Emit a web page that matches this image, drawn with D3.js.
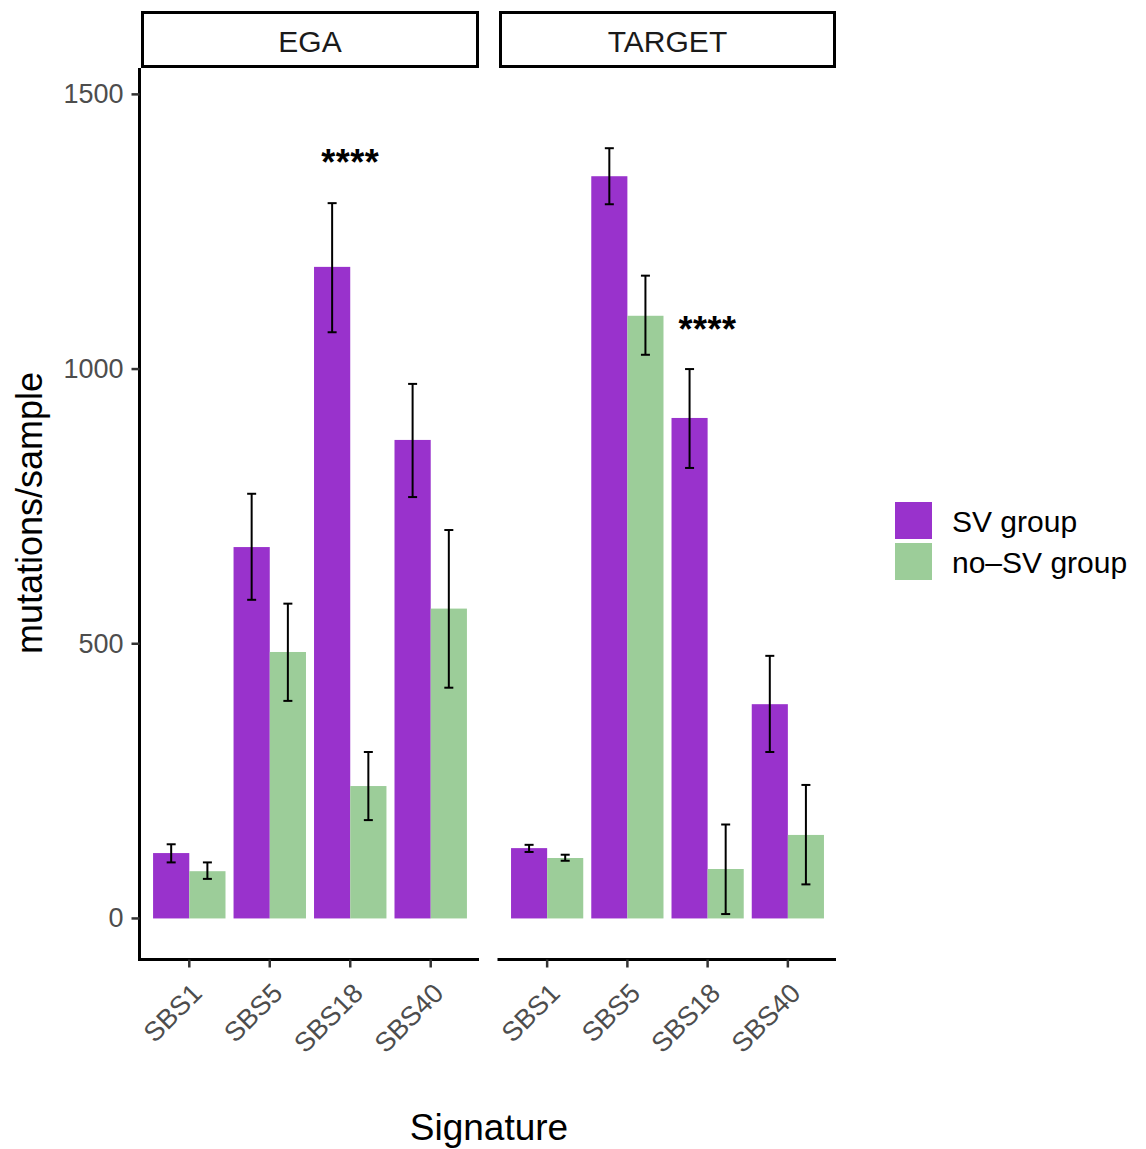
<!DOCTYPE html>
<html>
<head>
<meta charset="utf-8">
<script src="https://cdn.jsdelivr.net/npm/d3@7"></script>
<style>
  html, body { margin: 0; padding: 0; background: #fff; }
  svg { display: block; font-family: "Liberation Sans", Arial, Helvetica, sans-serif; }
</style>
</head>
<body>
<svg id="chart" width="1146" height="1149"></svg>
<script>
// Cohorts (facets), signatures and groups
const cohorts = ["EGA", "TARGET"];
const signatures = ["SBS1", "SBS5", "SBS18", "SBS40"];
const groups = ["SV group", "no\u2013SV group"];
const groupColors = ["#9932cc", "#9ccd99"];

// Mean mutations/sample per signature, with error-bar bounds
const egaSV      = [119, 676, 1186, 871];
const egaSVLow   = [102, 580, 1067, 767];
const egaSVHigh  = [135, 773, 1302, 973];
const egaNoSV      = [86, 485, 241, 564];
const egaNoSVLow   = [72, 396, 179, 420];
const egaNoSVHigh  = [102, 573, 303, 707];

const targetSV      = [128, 1351, 911, 390];
const targetSVLow   = [121, 1300, 820, 303];
const targetSVHigh  = [134, 1402, 1000, 478];
const targetNoSV      = [110, 1097, 90, 152];
const targetNoSVLow   = [105, 1026, 8, 62];
const targetNoSVHigh  = [116, 1170, 171, 243];

// Significance labels: cohort, signature, label, height
const sigCohort = ["EGA", "TARGET"];
const sigSignature = ["SBS18", "SBS18"];
const sigLabel = ["****", "****"];
const sigValue = [1386, 1082];

const yTicks = [0, 500, 1000, 1500];

const series = {
  EGA: [
    { values: egaSV, low: egaSVLow, high: egaSVHigh },
    { values: egaNoSV, low: egaNoSVLow, high: egaNoSVHigh }
  ],
  TARGET: [
    { values: targetSV, low: targetSVLow, high: targetSVHigh },
    { values: targetNoSV, low: targetNoSVLow, high: targetNoSVHigh }
  ]
};

const svg = d3.select("#chart");

const panelTop = 68, panelBottom = 958;
const panels = [{ name: "EGA", x0: 141, x1: 479 }, { name: "TARGET", x0: 499, x1: 836 }];

const y = d3.scaleLinear().domain([-72, 1548]).range([panelBottom, panelTop]);

const textGrey = "#4d4d4d";

panels.forEach((p, pi) => {
  const g = svg.append("g");
  // discrete x with 0.6 expansion on each side
  const x = d3.scaleLinear().domain([0.4, signatures.length + 0.6]).range([p.x0, p.x1]);
  const groupScale = d3.scaleBand().domain(groups).range([-0.45, 0.45]);

  // strip
  g.append("rect")
    .attr("x", p.x0 + 1.5).attr("y", 12.5)
    .attr("width", p.x1 - p.x0 - 3).attr("height", 54)
    .attr("fill", "#fff").attr("stroke", "#000").attr("stroke-width", 3);
  g.append("text")
    .attr("x", (p.x0 + p.x1) / 2).attr("y", 41)
    .attr("text-anchor", "middle").attr("dominant-baseline", "central")
    .attr("font-size", 30).attr("fill", "#1a1a1a")
    .text(p.name);

  // bars
  series[p.name].forEach((s, gi) => {
    const gname = groups[gi];
    g.selectAll(null).data(signatures).enter().append("rect")
      .attr("x", (d, i) => x(i + 1 + groupScale(gname)))
      .attr("width", x(1 + groupScale.bandwidth()) - x(1))
      .attr("y", (d, i) => y(s.values[i]))
      .attr("height", (d, i) => y(0) - y(s.values[i]))
      .attr("fill", groupColors[gi]);
  });

  // error bars
  series[p.name].forEach((s, gi) => {
    const gname = groups[gi];
    const cx = i => x(i + 1 + groupScale(gname) + groupScale.bandwidth() / 2);
    const capHalf = 4.5;
    const eb = g.selectAll(null).data(signatures).enter().append("g")
      .attr("stroke", "#000").attr("stroke-width", 2);
    eb.append("line")
      .attr("x1", (d, i) => cx(i)).attr("x2", (d, i) => cx(i))
      .attr("y1", (d, i) => y(s.low[i])).attr("y2", (d, i) => y(s.high[i]));
    eb.append("line")
      .attr("x1", (d, i) => cx(i) - capHalf).attr("x2", (d, i) => cx(i) + capHalf)
      .attr("y1", (d, i) => y(s.low[i])).attr("y2", (d, i) => y(s.low[i]));
    eb.append("line")
      .attr("x1", (d, i) => cx(i) - capHalf).attr("x2", (d, i) => cx(i) + capHalf)
      .attr("y1", (d, i) => y(s.high[i])).attr("y2", (d, i) => y(s.high[i]));
  });

  // significance labels
  sigCohort.forEach((c, k) => {
    if (c !== p.name) return;
    const i = signatures.indexOf(sigSignature[k]);
    g.append("text")
      .attr("x", x(i + 1)).attr("y", y(sigValue[k]) + 5)
      .attr("text-anchor", "middle").attr("dominant-baseline", "central")
      .attr("font-size", 36).attr("font-weight", "bold").attr("fill", "#000")
      .attr("letter-spacing", 0.5)
      .text(sigLabel[k]);
  });

  // x axis
  const xa = g.append("g").attr("transform", `translate(0,${panelBottom + 1.5})`);
  xa.append("line").attr("x1", p.x0 - 1.5).attr("x2", p.x1)
    .attr("stroke", "#000").attr("stroke-width", 3);
  signatures.forEach((sname, i) => {
    xa.append("line").attr("x1", x(i + 1)).attr("x2", x(i + 1))
      .attr("y1", 0).attr("y2", 8).attr("stroke", "#333").attr("stroke-width", 2.5);
    xa.append("text")
      .attr("transform", `translate(${x(i + 1) + 1},${22}) rotate(-45)`)
      .attr("text-anchor", "end").attr("dy", "0.7em")
      .attr("font-size", 27).attr("fill", textGrey)
      .text(sname);
  });

  // y axis on first panel only
  if (pi === 0) {
    const ya = g.append("g").attr("transform", `translate(${p.x0 - 1.5},0)`);
    ya.append("line").attr("y1", panelTop).attr("y2", panelBottom + 3)
      .attr("stroke", "#000").attr("stroke-width", 3);
    yTicks.forEach(t => {
      ya.append("line").attr("x1", -8).attr("x2", 0)
        .attr("y1", y(t)).attr("y2", y(t)).attr("stroke", "#333").attr("stroke-width", 2.5);
      ya.append("text")
        .attr("x", -16).attr("y", y(t))
        .attr("text-anchor", "end").attr("dominant-baseline", "central")
        .attr("font-size", 27).attr("fill", textGrey)
        .text(t);
    });
  }
});

// axis titles
svg.append("text")
  .attr("transform", `translate(29,${(panelTop + panelBottom) / 2}) rotate(-90)`)
  .attr("text-anchor", "middle").attr("dominant-baseline", "central")
  .attr("font-size", 36).attr("fill", "#000")
  .text("mutations/sample");
svg.append("text")
  .attr("x", 489).attr("y", 1127)
  .attr("text-anchor", "middle").attr("dominant-baseline", "central")
  .attr("font-size", 37).attr("fill", "#000")
  .text("Signature");

// legend
const legend = svg.append("g").attr("transform", "translate(895,502)");
groups.forEach((gname, i) => {
  legend.append("rect")
    .attr("x", 0).attr("y", i * 41).attr("width", 37).attr("height", 37)
    .attr("fill", groupColors[i]);
  legend.append("text")
    .attr("x", 57).attr("y", i * 41 + 19)
    .attr("dominant-baseline", "central")
    .attr("font-size", 30).attr("fill", "#000")
    .text(gname);
});
</script>
</body>
</html>
